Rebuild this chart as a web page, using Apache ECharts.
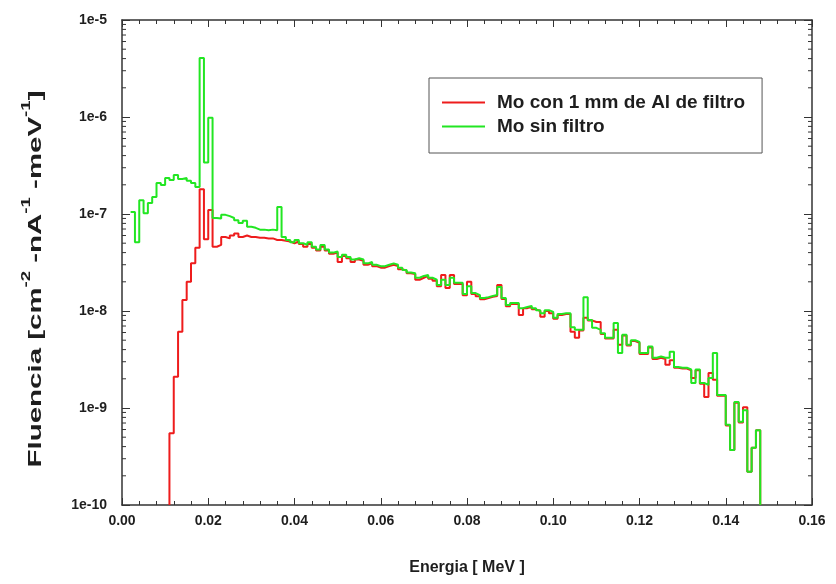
<!DOCTYPE html>
<html>
<head>
<meta charset="utf-8">
<script src="https://cdn.jsdelivr.net/npm/echarts@6/dist/echarts.min.js"></script>
<style>
html,body{margin:0;padding:0;background:#fff;}
#chart{width:836px;height:584px;}
</style>
</head>
<body>
<div id="chart"></div>
<script>
// Bin edges (MeV), bin width 0.001
const binEdges = [
  0.002,0.003,0.004,0.005,0.006,0.007,0.008,0.009,0.010,0.011,
  0.012,0.013,0.014,0.015,0.016,0.017,0.018,0.019,0.020,0.021,
  0.022,0.023,0.024,0.025,0.026,0.027,0.028,0.029,0.030,0.031,
  0.032,0.033,0.034,0.035,0.036,0.037,0.038,0.039,0.040,0.041,
  0.042,0.043,0.044,0.045,0.046,0.047,0.048,0.049,0.050,0.051,
  0.052,0.053,0.054,0.055,0.056,0.057,0.058,0.059,0.060,0.061,
  0.062,0.063,0.064,0.065,0.066,0.067,0.068,0.069,0.070,0.071,
  0.072,0.073,0.074,0.075,0.076,0.077,0.078,0.079,0.080,0.081,
  0.082,0.083,0.084,0.085,0.086,0.087,0.088,0.089,0.090,0.091,
  0.092,0.093,0.094,0.095,0.096,0.097,0.098,0.099,0.100,0.101,
  0.102,0.103,0.104,0.105,0.106,0.107,0.108,0.109,0.110,0.111,
  0.112,0.113,0.114,0.115,0.116,0.117,0.118,0.119,0.120,0.121,
  0.122,0.123,0.124,0.125,0.126,0.127,0.128,0.129,0.130,0.131,
  0.132,0.133,0.134,0.135,0.136,0.137,0.138,0.139,0.140,0.141,
  0.142,0.143,0.144,0.145,0.146,0.147,0.148
];

// "Mo sin filtro" (green) fluence per bin
const sinFiltro = [
  1.05e-7,5.1e-8,1.39e-7,1.02e-7,1.30e-7,1.50e-7,2.09e-7,1.99e-7,2.35e-7,2.24e-7,
  2.52e-7,2.30e-7,2.35e-7,2.20e-7,2.09e-7,1.90e-7,4.06e-6,3.4e-7,9.8e-7,9.1e-8,
  9.0e-8,9.8e-8,9.5e-8,9.1e-8,8.6e-8,8.1e-8,8.5e-8,7.4e-8,7.2e-8,6.9e-8,
  6.9e-8,6.8e-8,6.9e-8,6.8e-8,1.18e-7,5.8e-8,5.4e-8,5.1e-8,5.4e-8,5.0e-8,
  4.8e-8,5.1e-8,4.6e-8,4.3e-8,4.8e-8,4.3e-8,4.0e-8,4.1e-8,3.6e-8,3.8e-8,
  3.6e-8,3.4e-8,3.5e-8,3.4e-8,3.1e-8,3.2e-8,3.0e-8,2.9e-8,2.9e-8,3.0e-8,
  3.1e-8,3.0e-8,2.8e-8,2.65e-8,2.5e-8,2.45e-8,2.2e-8,2.3e-8,2.35e-8,2.2e-8,
  2.1e-8,1.85e-8,2.1e-8,1.85e-8,2.2e-8,1.95e-8,1.95e-8,1.5e-8,1.8e-8,1.53e-8,
  1.46e-8,1.36e-8,1.39e-8,1.43e-8,1.46e-8,1.77e-8,1.36e-8,1.15e-8,1.21e-8,1.21e-8,
  1.07e-8,1.10e-8,1.13e-8,1.07e-8,1.02e-8,9.5e-9,1.02e-8,9.8e-9,8.5e-9,9.3e-9,
  9.5e-9,9.5e-9,6.8e-9,6.4e-9,6.4e-9,1.39e-8,8.1e-9,6.7e-9,6.4e-9,5.9e-9,
  5.3e-9,5.3e-9,7.5e-9,3.7e-9,5.7e-9,4.5e-9,5.0e-9,4.8e-9,3.7e-9,3.7e-9,
  4.3e-9,3.3e-9,3.4e-9,3.3e-9,3.3e-9,3.8e-9,2.65e-9,2.6e-9,2.6e-9,2.5e-9,
  1.81e-9,2.5e-9,1.81e-9,1.73e-9,2.04e-9,3.7e-9,1.36e-9,1.36e-9,6.7e-10,3.7e-10,
  1.15e-9,7.2e-10,9.5e-10,2.2e-10,3.9e-10,5.9e-10
];

// "Mo con 1 mm de Al de filtro" (red) fluence per bin
const conFiltro = [
  null,null,null,null,null,null,null,null,null,5.5e-10,
  2.1e-9,6.1e-9,1.3e-8,2.0e-8,3.1e-8,4.5e-8,1.8e-7,5.5e-8,1.1e-7,4.6e-8,
  4.8e-8,5.8e-8,5.6e-8,6.0e-8,6.3e-8,5.8e-8,6.0e-8,5.8e-8,5.8e-8,5.7e-8,
  5.7e-8,5.6e-8,5.6e-8,5.4e-8,5.4e-8,5.3e-8,5.2e-8,5.0e-8,5.2e-8,4.9e-8,
  4.6e-8,4.9e-8,4.5e-8,4.2e-8,4.6e-8,4.2e-8,3.9e-8,4.0e-8,3.2e-8,3.7e-8,
  3.5e-8,3.2e-8,3.4e-8,3.3e-8,3.0e-8,3.1e-8,2.9e-8,2.8e-8,2.8e-8,2.9e-8,
  3.0e-8,2.9e-8,2.7e-8,2.6e-8,2.45e-8,2.4e-8,2.1e-8,2.2e-8,2.3e-8,2.15e-8,
  2.05e-8,1.8e-8,2.35e-8,1.73e-8,2.35e-8,1.9e-8,1.9e-8,1.45e-8,2.0e-8,1.5e-8,
  1.42e-8,1.32e-8,1.36e-8,1.4e-8,1.43e-8,1.85e-8,1.33e-8,1.12e-8,1.18e-8,1.18e-8,
  9.1e-9,1.07e-8,1.1e-8,1.04e-8,1.0e-8,8.7e-9,1.0e-8,9.5e-9,8.3e-9,9.1e-9,
  9.3e-9,9.3e-9,6.1e-9,5.3e-9,6.3e-9,8.5e-9,8.0e-9,7.7e-9,7.7e-9,5.8e-9,
  5.2e-9,5.2e-9,6.4e-9,4.5e-9,5.6e-9,4.4e-9,4.9e-9,4.7e-9,3.6e-9,3.6e-9,
  4.2e-9,3.2e-9,3.3e-9,3.2e-9,2.8e-9,3.1e-9,2.6e-9,2.55e-9,2.55e-9,2.45e-9,
  2.04e-9,2.45e-9,1.78e-9,1.3e-9,2.3e-9,1.95e-9,1.34e-9,1.34e-9,6.6e-10,3.7e-10,
  1.13e-9,7.1e-10,1.02e-9,2.2e-10,3.9e-10,5.9e-10
];

const xTickLabels = ['0.00','0.02','0.04','0.06','0.08','0.10','0.12','0.14','0.16'];
const yTickLabels = ['1e-10','1e-9','1e-8','1e-7','1e-6','1e-5'];
const seriesNames = ['Mo con 1 mm de Al de filtro', 'Mo sin filtro'];

const X_MIN = 0, X_MAX = 0.16, Y_MIN = 1e-10, Y_MAX = 1e-5;
const FONT = '"Liberation Sans", Arial, sans-serif';
const TXT = '#1e1e1e';
const AX = '#333';
const RED = '#ee1c1c', GREEN = '#22e622';

function buildSteps(values, riseFromFloor) {
  const pts = [];
  let started = false;
  for (let i = 0; i < values.length; i++) {
    const v = values[i];
    if (v == null) continue;
    if (!started) {
      if (riseFromFloor) pts.push([binEdges[i], Y_MIN]);
      started = true;
    }
    pts.push([binEdges[i], v]);
  }
  pts.push([binEdges[binEdges.length - 1], Y_MIN]);
  return pts;
}

// log-axis minor tick positions (2..9 within each decade)
const minorTicks = [];
for (let d = -10; d < -5; d++) {
  for (let m = 2; m <= 9; m++) minorTicks.push([0, m * Math.pow(10, d)]);
}

const axisCommon = {
  axisLine: { show: true, onZero: false, lineStyle: { color: AX, width: 1.5 } },
  splitLine: { show: false }
};

const chart = echarts.init(document.getElementById('chart'), null, { renderer: 'canvas' });
chart.setOption({
  animation: false,
  backgroundColor: '#fff',
  grid: { left: 122, right: 24, top: 20, bottom: 79, containLabel: false },
  legend: {
    orient: 'vertical',
    left: 429, top: 78,
    padding: [15, 17, 17, 13],
    itemWidth: 43, itemHeight: 2, itemGap: 5,
    icon: 'rect',
    borderColor: '#555', borderWidth: 1,
    backgroundColor: '#fff',
    data: [
      { name: seriesNames[0], icon: 'rect', itemStyle: { color: RED } },
      { name: seriesNames[1], icon: 'rect', itemStyle: { color: GREEN } }
    ],
    textStyle: { fontFamily: FONT, fontWeight: 'bold', fontSize: 19, color: TXT, padding: [0, 0, 0, 7] }
  },
  graphic: [
    {
      type: 'text', x: 33, y: 279, rotation: Math.PI / 2, scaleX: 1.55, scaleY: 1, silent: true,
      style: {
        text: '{a|Fluencia [cm}{s|-2}{a| -nA}{s|-1}{a| -meV}{s|-1}{a|]}',
        align: 'center', verticalAlign: 'middle',
        rich: {
          a: { fontFamily: FONT, fontWeight: 'bold', fontSize: 19, fill: TXT, lineHeight: 24, verticalAlign: 'bottom' },
          s: { fontFamily: FONT, fontWeight: 'bold', fontSize: 12, fill: TXT, lineHeight: 13, verticalAlign: 'top' }
        }
      }
    }
  ],
  xAxis: [
    Object.assign({}, axisCommon, {
      type: 'value', min: X_MIN, max: X_MAX, interval: 0.02, position: 'bottom',
      name: 'Energia [ MeV ]', nameLocation: 'middle', nameGap: 55,
      nameTextStyle: { fontFamily: FONT, fontWeight: 'bold', fontSize: 16, color: TXT },
      axisTick: { inside: true, length: 7, lineStyle: { color: AX } },
      minorTick: { show: true, splitNumber: 5, length: 4, lineStyle: { color: AX } },
      axisLabel: {
        margin: 9, fontFamily: FONT, fontWeight: 'bold', fontSize: 14, color: TXT,
        formatter: (v, i) => xTickLabels[i]
      }
    }),
    Object.assign({}, axisCommon, {
      type: 'value', min: X_MIN, max: X_MAX, interval: 0.02, position: 'top',
      axisTick: { inside: true, length: 7, lineStyle: { color: AX } },
      minorTick: { show: true, splitNumber: 5, length: 4, lineStyle: { color: AX } },
      axisLabel: { show: false }
    })
  ],
  yAxis: [
    Object.assign({}, axisCommon, {
      type: 'log', logBase: 10, min: Y_MIN, max: Y_MAX, position: 'left',
      axisTick: { inside: true, length: 8, lineStyle: { color: AX } },
      axisLabel: {
        margin: 15, fontFamily: FONT, fontWeight: 'bold', fontSize: 14, color: TXT,
        formatter: (v, i) => yTickLabels[i]
      }
    }),
    Object.assign({}, axisCommon, {
      type: 'log', logBase: 10, min: Y_MIN, max: Y_MAX, position: 'right',
      axisTick: { inside: true, length: 8, lineStyle: { color: AX } },
      axisLabel: { show: false }
    })
  ],
  series: [
    {
      type: 'custom', name: 'minorTicks', xAxisIndex: 0, yAxisIndex: 0, silent: true,
      data: minorTicks, encode: { x: 0, y: 1 }, clip: false, z: 1,
      renderItem: function (params, api) {
        const v = api.value(1);
        const pl = api.coord([X_MIN, v]);
        const pr = api.coord([X_MAX, v]);
        return {
          type: 'group',
          children: [
            { type: 'line', shape: { x1: pl[0], y1: pl[1], x2: pl[0] + 4, y2: pl[1] }, style: { stroke: AX, lineWidth: 1 } },
            { type: 'line', shape: { x1: pr[0] - 4, y1: pr[1], x2: pr[0], y2: pr[1] }, style: { stroke: AX, lineWidth: 1 } }
          ]
        };
      }
    },
    {
      type: 'line', name: seriesNames[0], xAxisIndex: 0, yAxisIndex: 0,
      step: 'end', symbol: 'none', data: buildSteps(conFiltro, true),
      lineStyle: { color: RED, width: 2 }, itemStyle: { color: RED }, z: 3
    },
    {
      type: 'line', name: seriesNames[1], xAxisIndex: 0, yAxisIndex: 0,
      step: 'end', symbol: 'none', data: buildSteps(sinFiltro, false),
      lineStyle: { color: GREEN, width: 2 }, itemStyle: { color: GREEN }, z: 4
    }
  ]
});
</script>
</body>
</html>
